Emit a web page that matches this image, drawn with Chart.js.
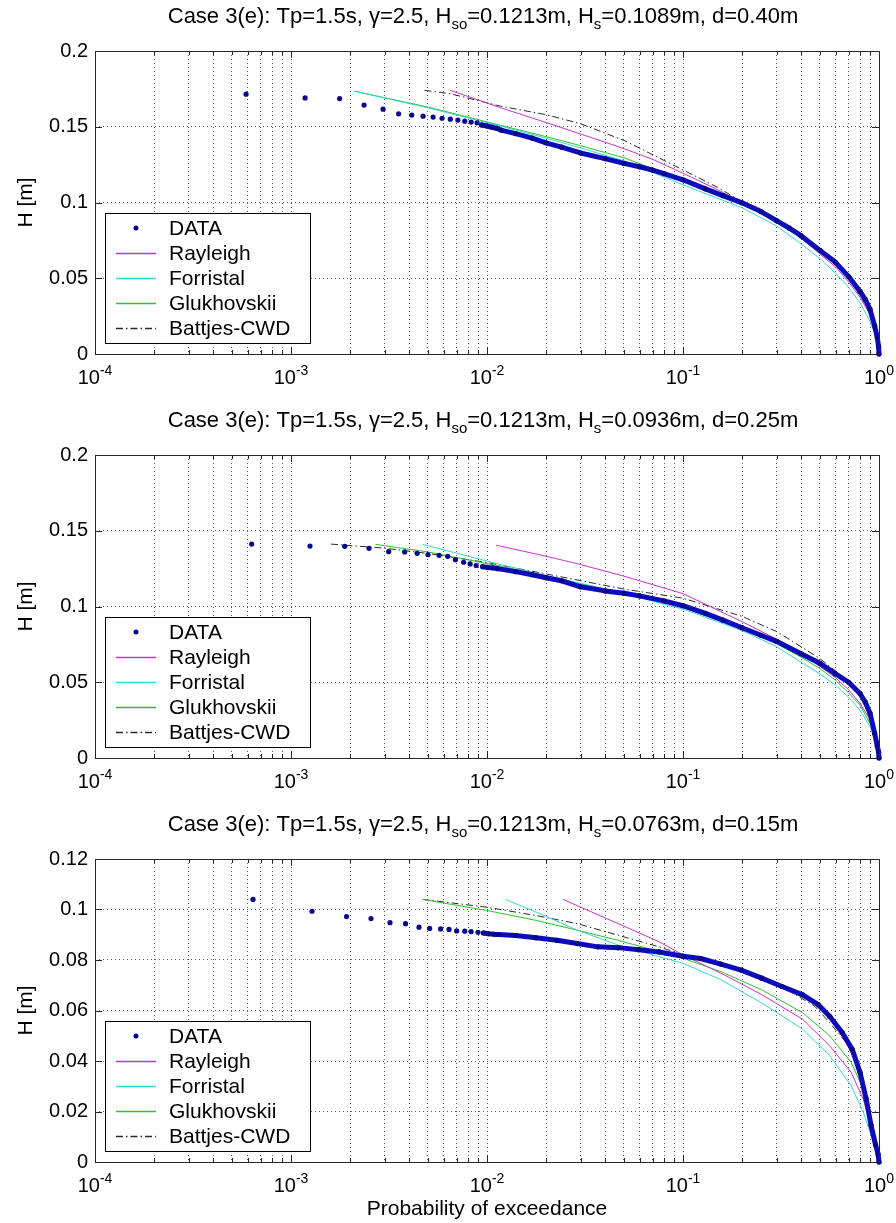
<!DOCTYPE html>
<html>
<head>
<meta charset="utf-8">
<title>Probability of exceedance</title>
<script src="https://cdn.jsdelivr.net/npm/chart.js@4.4.1/dist/chart.umd.min.js"></script>
<style>
  html, body { margin: 0; padding: 0; background: #fff; }
  #page { position: relative; width: 896px; height: 1223px; overflow: hidden; }
  #page canvas { position: absolute; left: 0; }
</style>
</head>
<body>
<div id="page">
  <canvas id="c1" width="896" height="404" style="top:0"></canvas>
  <canvas id="c2" width="896" height="404" style="top:404px"></canvas>
  <canvas id="c3" width="896" height="415" style="top:808px"></canvas>
</div>
<script>
// axes / labels
const X_DECADES = [1e-4, 1e-3, 1e-2, 1e-1, 1];
const X_EXPONENTS = ['-4', '-3', '-2', '-1', '0'];
const X_MINOR = [2, 3, 4, 5, 6, 7, 8, 9];
const Y_TICKS_A = [0, 0.05, 0.1, 0.15, 0.2];
const Y_TICKS_B = [0, 0.02, 0.04, 0.06, 0.08, 0.1, 0.12];
const SERIES_NAMES = ['DATA', 'Rayleigh', 'Forristal', 'Glukhovskii', 'Battjes-CWD'];
const X_LABEL = 'Probability of exceedance';
const Y_LABEL = 'H [m]';

const HSO = '0.1213';
const HS = ['0.1089', '0.0936', '0.0763'];
const DEPTH = ['0.40', '0.25', '0.15'];

// panel 1, d = 0.40 m
const p1DataP = [0.00059, 0.00118, 0.00177, 0.00236, 0.00295, 0.00354, 0.00413, 0.00472, 0.00531, 0.0059,
  0.0065, 0.0071, 0.0077, 0.0083, 0.0089, 0.0094, 0.0100, 0.0106, 0.0112, 0.0118,
  0.014, 0.017, 0.020, 0.024, 0.030, 0.040, 0.050, 0.060, 0.070, 0.080,
  0.100, 0.130, 0.160, 0.200, 0.250, 0.300, 0.350, 0.400, 0.500, 0.600,
  0.700, 0.800, 0.850, 0.900, 0.950, 0.980, 0.995, 1.0];
const p1DataH = [0.1715, 0.1690, 0.1686, 0.1643, 0.1616, 0.1585, 0.1577, 0.1570, 0.1564, 0.1556,
  0.1550, 0.1544, 0.1537, 0.1531, 0.1526, 0.1512, 0.1505, 0.1497, 0.1490, 0.1478,
  0.1455, 0.1425, 0.1394, 0.1365, 0.1327, 0.1290, 0.1258, 0.1236, 0.1214, 0.1190,
  0.1150, 0.1090, 0.1045, 0.0998, 0.0940, 0.0880, 0.0830, 0.0781, 0.0684, 0.0605,
  0.0511, 0.0413, 0.0360, 0.0294, 0.0186, 0.0110, 0.0050, 0.0];
const p1RayP = [0.0065, 0.0117, 0.02, 0.03, 0.04, 0.05, 0.07, 0.1, 0.15, 0.2, 0.3, 0.4, 0.5, 0.6, 0.7, 0.8, 0.9, 0.95, 0.99, 1];
const p1RayH = [0.1740, 0.1626, 0.1528, 0.1452, 0.1398, 0.1355, 0.1285, 0.1193, 0.1085, 0.1000, 0.0870, 0.0765, 0.0660, 0.0575, 0.0475, 0.0375, 0.0260, 0.0180, 0.0080, 0];
const p1ForP = [0.0021, 0.005, 0.0117, 0.02, 0.03, 0.05, 0.1, 0.2, 0.3, 0.4, 0.5, 0.6, 0.7, 0.8, 0.9, 0.95, 0.99, 1];
const p1ForH = [0.1735, 0.1625, 0.1505, 0.1425, 0.1360, 0.1275, 0.1117, 0.0965, 0.0845, 0.0727, 0.0630, 0.0533, 0.0440, 0.0338, 0.0215, 0.0140, 0.0050, 0];
const p1GluP = [0.0021, 0.005, 0.0117, 0.02, 0.03, 0.05, 0.1, 0.2, 0.3, 0.4, 0.5, 0.6, 0.7, 0.8, 0.9, 0.95, 0.99, 1];
const p1GluH = [0.1735, 0.1630, 0.1510, 0.1435, 0.1375, 0.1295, 0.1150, 0.0995, 0.0880, 0.0775, 0.0685, 0.0595, 0.0500, 0.0405, 0.0290, 0.0195, 0.0080, 0];
const p1BatP = [0.0048, 0.0065, 0.0117, 0.02, 0.03, 0.05, 0.1, 0.15, 0.2, 0.3, 0.4, 0.5, 0.6, 0.7, 0.8, 0.9, 0.95, 0.99, 1];
const p1BatH = [0.1740, 0.1718, 0.1636, 0.1580, 0.1520, 0.1410, 0.1215, 0.1100, 0.1005, 0.0885, 0.0790, 0.0695, 0.0610, 0.0515, 0.0420, 0.0300, 0.0195, 0.0080, 0];

// panel 2, d = 0.25 m
const p2DataP = [0.00063, 0.00125, 0.00188, 0.0025, 0.00315, 0.0038, 0.0044, 0.0050, 0.0057, 0.0063,
  0.0069, 0.0076, 0.0082, 0.0088, 0.0095, 0.0101, 0.0107, 0.0113, 0.014, 0.017,
  0.020, 0.024, 0.030, 0.040, 0.050, 0.060, 0.080, 0.100, 0.130, 0.160,
  0.200, 0.250, 0.300, 0.400, 0.500, 0.600, 0.700, 0.800, 0.850, 0.900,
  0.950, 0.980, 0.995, 1.0];
const p2DataH = [0.1412, 0.1399, 0.1397, 0.1384, 0.1362, 0.1360, 0.1351, 0.1342, 0.1338, 0.1331,
  0.1309, 0.1292, 0.1281, 0.1270, 0.1263, 0.1258, 0.1255, 0.1250, 0.1230, 0.1210,
  0.1190, 0.1170, 0.1130, 0.1103, 0.1088, 0.1070, 0.1037, 0.1005, 0.0955, 0.0910,
  0.0860, 0.0810, 0.0770, 0.0688, 0.0625, 0.0555, 0.0500, 0.0426, 0.0370, 0.0295,
  0.0164, 0.0080, 0.0040, 0.0];
const p2RayP = [0.0111, 0.02, 0.03, 0.05, 0.1, 0.2, 0.3, 0.4, 0.5, 0.6, 0.7, 0.8, 0.9, 0.95, 0.99, 1];
const p2RayH = [0.1405, 0.1332, 0.1277, 0.1200, 0.1085, 0.0900, 0.0785, 0.0685, 0.0605, 0.0530, 0.0450, 0.0360, 0.0255, 0.0180, 0.0080, 0];
const p2ForP = [0.0047, 0.0117, 0.02, 0.05, 0.1, 0.2, 0.3, 0.4, 0.5, 0.6, 0.7, 0.8, 0.9, 0.95, 0.99, 1];
const p2ForH = [0.1410, 0.1277, 0.1205, 0.1085, 0.0983, 0.0841, 0.0735, 0.0633, 0.0555, 0.0480, 0.0400, 0.0316, 0.0207, 0.0130, 0.0050, 0];
const p2GluP = [0.0027, 0.005, 0.0117, 0.02, 0.05, 0.1, 0.2, 0.3, 0.4, 0.5, 0.6, 0.7, 0.8, 0.9, 0.95, 0.99, 1];
const p2GluH = [0.1410, 0.1360, 0.1266, 0.1200, 0.1090, 0.0993, 0.0852, 0.0755, 0.0666, 0.0590, 0.0513, 0.0430, 0.0349, 0.0229, 0.0150, 0.0060, 0];
const p2BatP = [0.0016, 0.003, 0.005, 0.01, 0.02, 0.05, 0.1, 0.2, 0.3, 0.4, 0.5, 0.6, 0.7, 0.8, 0.9, 0.95, 1];
const p2BatH = [0.1412, 0.1385, 0.1350, 0.1290, 0.1215, 0.1115, 0.1055, 0.0935, 0.0835, 0.0735, 0.0655, 0.0575, 0.0510, 0.0430, 0.0300, 0.0190, 0];

// panel 3, d = 0.15 m
const p3DataP = [0.00064, 0.00128, 0.00192, 0.00256, 0.0032, 0.00384, 0.0045, 0.0051, 0.0058, 0.0064,
  0.0070, 0.0077, 0.0083, 0.0090, 0.0096, 0.0102, 0.0109, 0.0115, 0.014, 0.0178,
  0.0227, 0.0289, 0.0368, 0.0467, 0.0595, 0.0757, 0.100, 0.123, 0.156, 0.198,
  0.252, 0.320, 0.408, 0.490, 0.560, 0.650, 0.730, 0.800, 0.860, 0.910,
  0.960, 0.990, 1.0];
const p3DataH = [0.1040, 0.0993, 0.0972, 0.0964, 0.0948, 0.0944, 0.0930, 0.0925, 0.0923, 0.0921,
  0.0915, 0.0914, 0.0912, 0.0910, 0.0907, 0.0904, 0.0902, 0.0901, 0.0897, 0.0888,
  0.0878, 0.0865, 0.0852, 0.0849, 0.0841, 0.0832, 0.0815, 0.0806, 0.0784, 0.0760,
  0.0728, 0.0695, 0.0662, 0.0623, 0.0577, 0.0512, 0.0446, 0.0355, 0.0250, 0.0146,
  0.0069, 0.0030, 0.0];
const p3RayP = [0.0244, 0.0467, 0.0757, 0.1, 0.156, 0.252, 0.408, 0.56, 0.72, 0.83, 0.91, 0.96, 1];
const p3RayH = [0.1040, 0.0944, 0.0872, 0.0820, 0.0748, 0.0663, 0.0565, 0.0460, 0.0356, 0.0250, 0.0146, 0.0080, 0];
const p3ForP = [0.0124, 0.0178, 0.0289, 0.0467, 0.0757, 0.1, 0.156, 0.252, 0.408, 0.56, 0.72, 0.83, 0.91, 0.96, 1];
const p3ForH = [0.1040, 0.0990, 0.0918, 0.0859, 0.0813, 0.0787, 0.0722, 0.0630, 0.0526, 0.0421, 0.0303, 0.0199, 0.0107, 0.0050, 0];
const p3GluP = [0.0047, 0.01, 0.0178, 0.0289, 0.0467, 0.0757, 0.1, 0.156, 0.252, 0.408, 0.56, 0.72, 0.83, 0.91, 0.96, 1];
const p3GluH = [0.1040, 0.0996, 0.0957, 0.0918, 0.0878, 0.0833, 0.0807, 0.0754, 0.0682, 0.0591, 0.0500, 0.0395, 0.0290, 0.0173, 0.0090, 0];
const p3BatP = [0.0047, 0.01, 0.0178, 0.0289, 0.0467, 0.0757, 0.1, 0.123, 0.198, 0.32, 0.47, 0.56, 0.68, 0.78, 0.86, 0.93, 1];
const p3BatH = [0.1040, 0.1009, 0.0976, 0.0944, 0.0898, 0.0852, 0.0820, 0.0800, 0.0754, 0.0695, 0.0617, 0.0552, 0.0473, 0.0382, 0.0250, 0.0120, 0];

const FONT = "'Liberation Sans', Arial, sans-serif";
const DATA_BLUE = '#0c0cbc';
const DOT_BLUE = '#08088e';
const STYLES = [
  { color: DATA_BLUE, dash: [] },
  { color: '#d030d0', dash: [] },
  { color: '#30d8d8', dash: [] },
  { color: '#28c428', dash: [] },
  { color: '#2a2a2a', dash: [7, 3, 1.5, 3] }
];
// sorted samples are drawn as single dots until they get dense enough to merge into a band
const BAND_FROM = 0.0094;

const PANELS = [
  { id: 'c1', yMax: 0.2, yTicks: Y_TICKS_A, xLabel: false,
    series: [[p1DataP, p1DataH], [p1RayP, p1RayH], [p1ForP, p1ForH], [p1GluP, p1GluH], [p1BatP, p1BatH]] },
  { id: 'c2', yMax: 0.2, yTicks: Y_TICKS_A, xLabel: false,
    series: [[p2DataP, p2DataH], [p2RayP, p2RayH], [p2ForP, p2ForH], [p2GluP, p2GluH], [p2BatP, p2BatH]] },
  { id: 'c3', yMax: 0.12, yTicks: Y_TICKS_B, xLabel: true,
    series: [[p3DataP, p3DataH], [p3RayP, p3RayH], [p3ForP, p3ForH], [p3GluP, p3GluH], [p3BatP, p3BatH]] }
];

function titleParts(k) {
  return [
    ['Case 3(e): Tp=1.5s, \u03b3=2.5, H', false],
    ['so', true],
    ['=' + HSO + 'm, H', false],
    ['s', true],
    ['=' + HS[k] + 'm, d=' + DEPTH[k] + 'm', false]
  ];
}

const xTickValues = [];
X_DECADES.forEach((d, i) => {
  xTickValues.push(d);
  if (i < X_DECADES.length - 1) X_MINOR.forEach(m => xTickValues.push(m * d));
});

function pts(P, H) {
  return P.map((p, i) => ({ x: p, y: H[i] }));
}

function drawLegend(chart, a) {
  const ctx = chart.ctx;
  const L = Math.round(a.left) + 10, T = Math.round(a.bottom) - 141, W = 205, H = 130;
  ctx.setLineDash([]);
  ctx.fillStyle = '#fff';
  ctx.fillRect(L, T, W, H);
  ctx.strokeStyle = '#000';
  ctx.lineWidth = 1;
  ctx.strokeRect(L + 0.5, T + 0.5, W, H);
  ctx.font = '21px ' + FONT;
  ctx.textBaseline = 'middle';
  ctx.textAlign = 'left';
  chart.data.datasets.forEach((ds, i) => {
    const cy = T + 15 + i * 25;
    if (i === 0) {
      ctx.fillStyle = DOT_BLUE;
      ctx.beginPath();
      ctx.arc(L + 31, cy, 2.5, 0, Math.PI * 2);
      ctx.fill();
    } else {
      ctx.strokeStyle = STYLES[i].color;
      ctx.lineWidth = 1.4;
      ctx.setLineDash(STYLES[i].dash);
      ctx.beginPath();
      ctx.moveTo(L + 11, cy + 0.5);
      ctx.lineTo(L + 51, cy + 0.5);
      ctx.stroke();
      ctx.setLineDash([]);
    }
    ctx.fillStyle = '#000';
    ctx.fillText(ds.label, L + 64, cy + 1);
  });
}

const matlabLook = {
  id: 'matlabLook',
  afterDraw(chart, args, opts) {
    const k = opts.panel;
    const { ctx, chartArea: a, scales: { x, y } } = chart;
    ctx.save();
    // inward tick marks on all four sides
    ctx.strokeStyle = '#262626';
    ctx.lineWidth = 1;
    ctx.setLineDash([]);
    ctx.beginPath();
    x.ticks.forEach(t => {
      const px = Math.round(x.getPixelForValue(t.value)) + 0.5;
      const len = X_DECADES.includes(t.value) ? 7 : 4;
      ctx.moveTo(px, a.bottom); ctx.lineTo(px, a.bottom - len);
      ctx.moveTo(px, a.top); ctx.lineTo(px, a.top + len);
    });
    y.ticks.forEach(t => {
      const py = Math.round(y.getPixelForValue(t.value)) + 0.5;
      ctx.moveTo(a.left, py); ctx.lineTo(a.left + 7, py);
      ctx.moveTo(a.right, py); ctx.lineTo(a.right - 7, py);
    });
    ctx.stroke();
    ctx.strokeRect(Math.round(a.left) + 0.5, Math.round(a.top) + 0.5, Math.round(a.width), Math.round(a.height));

    drawLegend(chart, a);

    // 10^n tick labels
    ctx.fillStyle = '#000';
    ctx.textAlign = 'left';
    ctx.textBaseline = 'alphabetic';
    X_DECADES.forEach((d, i) => {
      const px = x.getPixelForValue(d);
      ctx.font = '20px ' + FONT;
      const w1 = ctx.measureText('10').width;
      ctx.font = '14px ' + FONT;
      const w2 = ctx.measureText(X_EXPONENTS[i]).width;
      const left = px - (w1 + w2) / 2;
      ctx.font = '20px ' + FONT;
      ctx.fillText('10', left, a.bottom + 30);
      ctx.font = '14px ' + FONT;
      ctx.fillText(X_EXPONENTS[i], left + w1, a.bottom + 21);
    });

    // title with subscripts
    const parts = titleParts(k);
    const fontOf = sub => (sub ? '15px ' : '22px ') + FONT;
    let total = 0;
    parts.forEach(([s, sub]) => { ctx.font = fontOf(sub); total += ctx.measureText(s).width; });
    let tx = (a.left + a.right) / 2 - 4 - total / 2;
    const base = a.top - 28;
    parts.forEach(([s, sub]) => {
      ctx.font = fontOf(sub);
      ctx.fillText(s, tx, sub ? base + 6 : base);
      tx += ctx.measureText(s).width;
    });

    if (PANELS[k].xLabel) {
      ctx.font = '21px ' + FONT;
      ctx.textAlign = 'center';
      ctx.fillText(X_LABEL, (a.left + a.right) / 2, a.bottom + 53);
    }
    ctx.restore();
  }
};

Chart.defaults.font.family = FONT;
Chart.defaults.color = '#000';

PANELS.forEach((panel, k) => {
  const canvas = document.getElementById(panel.id);
  const datasets = panel.series.map((s, i) => {
    const ds = {
      label: SERIES_NAMES[i],
      data: pts(s[0], s[1]),
      showLine: true,
      borderColor: STYLES[i].color,
      borderWidth: 1,
      borderDash: STYLES[i].dash,
      pointRadius: 0,
      tension: 0,
      clip: 6,
      order: i
    };
    if (i === 0) {
      ds.borderWidth = 5;
      ds.borderJoinStyle = 'round';
      ds.borderCapStyle = 'round';
      ds.pointRadius = 2.6;
      ds.pointBackgroundColor = DOT_BLUE;
      ds.pointBorderWidth = 0;
      ds.segment = {
        borderColor: c => c.chart.data.datasets[c.datasetIndex].data[c.p0DataIndex].x >= BAND_FROM ? DATA_BLUE : 'transparent'
      };
    }
    return ds;
  });

  new Chart(canvas, {
    type: 'scatter',
    data: { datasets },
    options: {
      responsive: false,
      animation: false,
      events: [],
      layout: { padding: { top: 51, right: 17, bottom: canvas.height - 354, left: 0 } },
      scales: {
        x: {
          type: 'logarithmic',
          min: 1e-4,
          max: 1,
          afterBuildTicks: s => { s.ticks = xTickValues.map(v => ({ value: v })); },
          afterFit: s => { s.height = 0; },
          ticks: { display: false },
          grid: { color: '#5a5a5a', lineWidth: 1, drawTicks: false },
          border: { display: false, dash: [1, 3] }
        },
        y: {
          min: 0,
          max: panel.yMax,
          afterBuildTicks: s => { s.ticks = panel.yTicks.map(v => ({ value: v })); },
          afterFit: s => { s.width = 95; },
          ticks: {
            font: { size: 20 },
            color: '#000',
            padding: 7,
            callback: v => String(+v.toFixed(2))
          },
          title: {
            display: true,
            text: Y_LABEL,
            font: { size: 21 },
            color: '#000',
            padding: { top: 14, bottom: 0 }
          },
          grid: { color: '#5a5a5a', lineWidth: 1, drawTicks: false },
          border: { display: false, dash: [1, 3] }
        }
      },
      plugins: {
        legend: { display: false },
        tooltip: { enabled: false },
        matlabLook: { panel: k }
      }
    },
    plugins: [matlabLook]
  });
});
</script>
</body>
</html>
